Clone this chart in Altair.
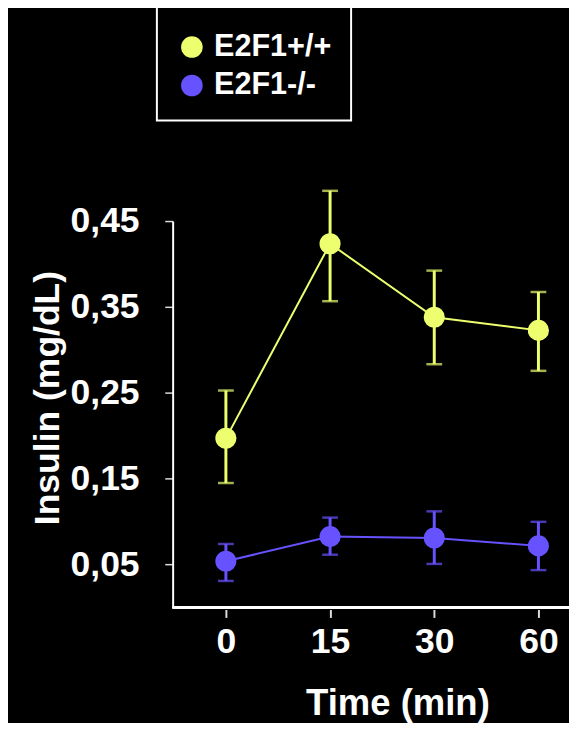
import altair as alt
import pandas as pd

times = ["0", "15", "30", "60"]
groups = ["E2F1+/+", "E2F1-/-"]
wt_mean = [0.197, 0.4236, 0.338, 0.3227]
wt_hi = [0.2527, 0.4852, 0.3923, 0.3674]
wt_lo = [0.145, 0.3567, 0.2833, 0.2756]
ko_mean = [0.0539, 0.0826, 0.0810, 0.0718]
ko_hi = [0.074, 0.1047, 0.112, 0.0998]
ko_lo = [0.031, 0.0615, 0.0508, 0.0436]
y_ticks = [0.05, 0.15, 0.25, 0.35, 0.45]
colors = ["#EDFF6E", "#6752FF"]

rows = []
for i, t in enumerate(times):
    rows.append({"time": t, "group": groups[0], "mean": wt_mean[i], "hi": wt_hi[i], "lo": wt_lo[i]})
    rows.append({"time": t, "group": groups[1], "mean": ko_mean[i], "hi": ko_hi[i], "lo": ko_lo[i]})
df = pd.DataFrame(rows)

FONT = "Liberation Sans"

x_enc = alt.X(
    "time:O",
    sort=times,
    scale=alt.Scale(type="point", range=[54, 371], padding=0),
    axis=alt.Axis(
        title="Time (min)",
        domain=False,
        offset=2,
        tickSize=8,
        tickWidth=2,
        tickColor="#dddddd",
        labelAngle=0,
        labelFont=FONT,
        labelFontWeight="bold",
        labelFontSize=36,
        labelColor="white",
        labelBaseline="alphabetic",
        labelPadding=36,
        titleFont=FONT,
        titleFontWeight="bold",
        titleFontSize=37,
        titleColor="white",
        titleX=228,
        titleY=106,
        titleBaseline="alphabetic",
        titleAlign="center",
        grid=False,
    ),
)
y_scale = alt.Scale(domain=[0, 0.45], nice=False, zero=False)
y_axis = alt.Axis(
    title="Insulin (mg/dL)",
    values=y_ticks,
    labelExpr="replace(format(datum.value, '.2f'), '.', ',')",
    domainColor="white",
    domainWidth=2,
    tickSize=8,
    tickWidth=1.5,
    tickColor="#dddddd",
    labelFont=FONT,
    labelFontWeight="bold",
    labelFontSize=36,
    labelColor="white",
    labelPadding=26,
    titleFont=FONT,
    titleFontWeight="bold",
    titleFontSize=36,
    titleColor="white",
    titleAngle=270,
    titleX=-127,
    titleY=179,
    titleBaseline="middle",
    titleAlign="center",
    grid=False,
)
color_scale = alt.Scale(domain=groups, range=colors)
legend = alt.Legend(
    title=" ",
    titleFontSize=6,
    titlePadding=2,
    orient="none",
    legendX=-16,
    legendY=-220,
    strokeColor="white",
    padding=20,
    labelFont=FONT,
    labelFontWeight="bold",
    labelFontSize=31,
    labelColor="white",
    labelOffset=7,
    symbolType="circle",
    symbolSize=480,
    symbolStrokeWidth=0,
    symbolOpacity=1,
    rowPadding=7,
)
color_enc = alt.Color("group:N", scale=color_scale, legend=legend)

base = alt.Chart(df)

bottom_line = base.mark_rule(color="white", strokeWidth=2).encode(y=alt.datum(0))

points = base.mark_point(filled=True, size=460, opacity=1, shape="circle").encode(
    x=x_enc,
    y=alt.Y("mean:Q", scale=y_scale, axis=y_axis),
    color=color_enc,
)
lines = base.mark_line(strokeWidth=2).encode(
    x=x_enc,
    y=alt.Y("mean:Q", scale=y_scale),
    color=color_enc,
)
rules = base.mark_rule(strokeWidth=3).encode(
    x=x_enc,
    y=alt.Y("lo:Q", scale=y_scale),
    y2="hi:Q",
    color=color_enc,
)
caps_hi = base.mark_tick(orient="horizontal", size=16, thickness=2.5).encode(
    x=x_enc,
    y=alt.Y("hi:Q", scale=y_scale),
    color=color_enc,
)
caps_lo = base.mark_tick(orient="horizontal", size=16, thickness=2.5).encode(
    x=x_enc,
    y=alt.Y("lo:Q", scale=y_scale),
    color=color_enc,
)

chart = (
    alt.layer(bottom_line, lines, rules, caps_hi, caps_lo, points)
    .properties(
        width=402,
        height=392,
        background="black",
        padding={"left": 167, "top": 211, "right": 0, "bottom": 112},
        autosize=alt.AutoSizeParams(type="none"),
    )
    .configure_view(stroke=None)
    .configure_legend(strokeWidth=2)
)

chart.save("out.html", embed_options={"renderer": "svg", "actions": False})
